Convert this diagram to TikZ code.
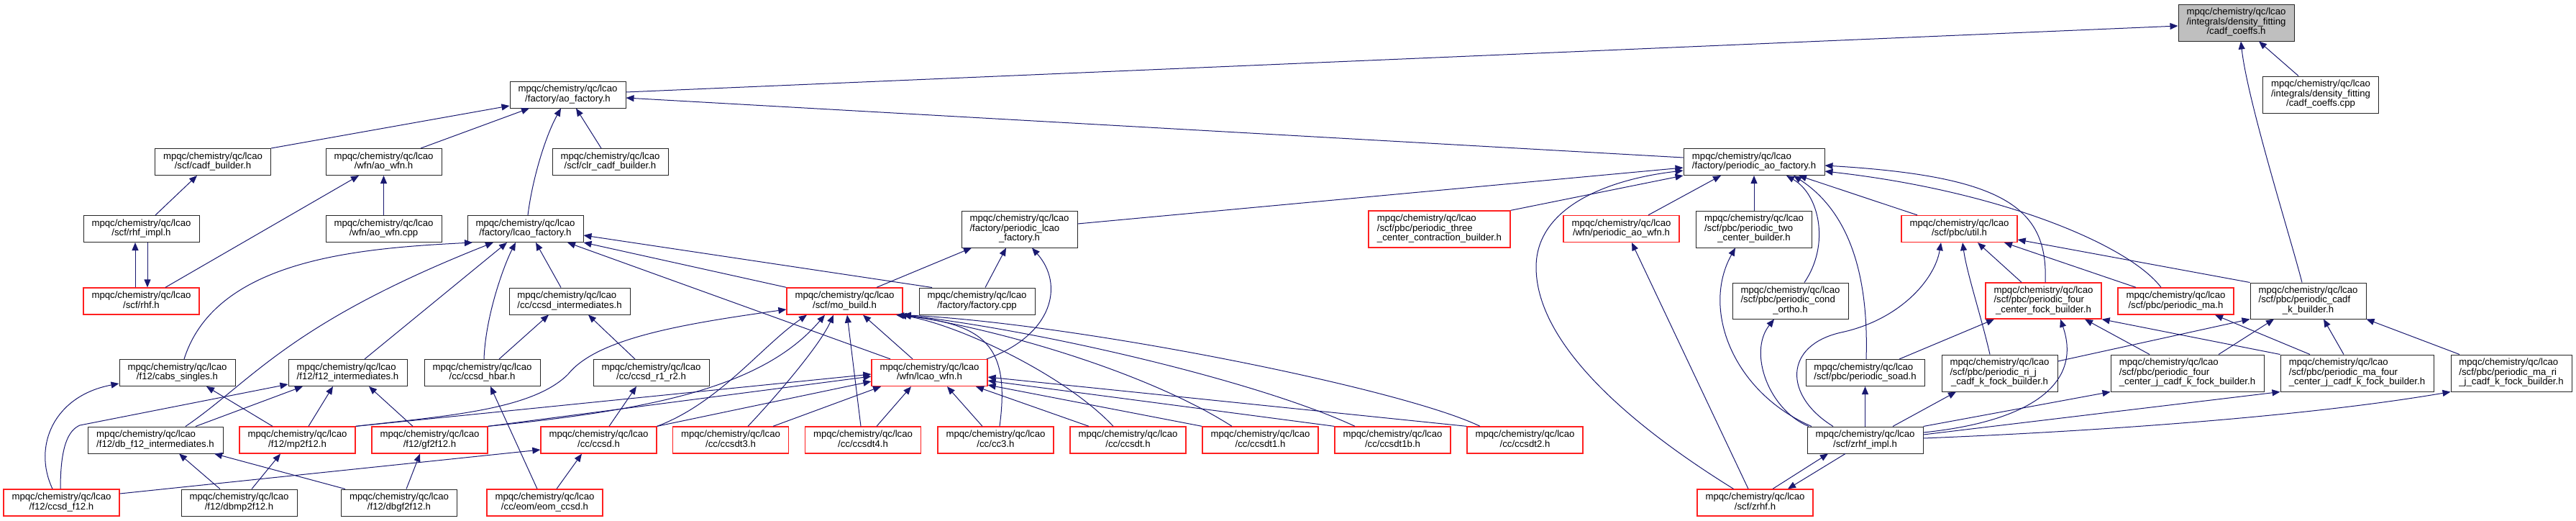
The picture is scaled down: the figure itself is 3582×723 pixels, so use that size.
\documentclass[tikz,border=0pt]{standalone}
\usepackage{fontspec}
\setmainfont{Liberation Sans}
\usetikzlibrary{arrows.meta}
\definecolor{edgec}{HTML}{191970}
\definecolor{rootgray}{HTML}{BFBFBF}
\definecolor{truncred}{HTML}{FF2020}
\newcommand\labii[1]{\begin{tabular}{@{}l@{}}mpqc/chemistry/qc/lcao\\\multicolumn{1}{@{}c@{}}{#1}\end{tabular}}
\newcommand\labiii[2]{\begin{tabular}{@{}l@{}}mpqc/chemistry/qc/lcao\\#1\\\multicolumn{1}{@{}c@{}}{#2}\end{tabular}}
\tikzset{
  box/.style={draw=black!85, line width=1pt, fill=white, inner sep=0pt, minimum width=161pt, minimum height=37pt, font=\fontsize{13.2}{13.3}\selectfont},
  tall/.style={minimum height=51pt},
  trunc/.style={draw=truncred, line width=1.3pt},
  rootn/.style={fill=rootgray},
  e/.style={draw=edgec, line width=1pt, -{Triangle[length=11pt,width=9pt]}},
}
\begin{document}
\begin{tikzpicture}[x=1pt,y=-1pt]
\useasboundingbox (0,0) rectangle (3582,723);
% ---------- nodes ----------
\node[box,tall,rootn] (cch) at (3109.5,31.5) {\labiii{/integrals/density\_fitting}{/cadf\_coeffs.h}};
\node[box,tall] (ccc) at (3227,131.5) {\labiii{/integrals/density\_fitting}{/cadf\_coeffs.cpp}};
\node[box] (aof) at (789.5,131.5) {\labii{/factory/ao\_factory.h}};
\node[box] (cb) at (296,225) {\labii{/scf/cadf\_builder.h}};
\node[box] (aow) at (533.5,225) {\labii{/wfn/ao\_wfn.h}};
\node[box] (clr) at (848.5,225) {\labii{/scf/clr\_cadf\_builder.h}};
\node[box,minimum width=196pt] (paof) at (2439,225) {\labii{/factory/periodic\_ao\_factory.h}};
\node[box] (rhfi) at (196.5,318) {\labii{/scf/rhf\_impl.h}};
\node[box] (aowc) at (533.5,318) {\labii{/wfn/ao\_wfn.cpp}};
\node[box] (lf) at (730.5,318) {\labii{/factory/lcao\_factory.h}};
\node[box,tall] (plf) at (1417.5,318.5) {\labiii{/factory/periodic\_lcao}{\_factory.h}};
\node[box,tall,trunc,minimum width=197pt] (p3c) at (2001.5,318.5) {\labiii{/scf/pbc/periodic\_three}{\_center\_contraction\_builder.h}};
\node[box,trunc] (paw) at (2254.5,318) {\labii{/wfn/periodic\_ao\_wfn.h}};
\node[box,tall] (p2c) at (2439,318.5) {\labiii{/scf/pbc/periodic\_two}{\_center\_builder.h}};
\node[box,trunc] (util) at (2724.5,318) {\labii{/scf/pbc/util.h}};
\node[box,trunc] (rhf) at (196.5,418.5) {\labii{/scf/rhf.h}};
\node[box,minimum width=168pt] (cci) at (792,418.5) {\labii{/cc/ccsd\_intermediates.h}};
\node[box,trunc] (mob) at (1174.5,418.5) {\labii{/scf/mo\_build.h}};
\node[box] (fcpp) at (1358.5,418.5) {\labii{/factory/factory.cpp}};
\node[box,tall,minimum height=50pt] (pco) at (2489.5,418) {\labiii{/scf/pbc/periodic\_cond}{\_ortho.h}};
\node[box,tall,trunc,minimum height=50pt] (p4f) at (2841.5,418) {\labiii{/scf/pbc/periodic\_four}{\_center\_fock\_builder.h}};
\node[box,trunc] (pma) at (3025.5,418.5) {\labii{/scf/pbc/periodic\_ma.h}};
\node[box,tall,minimum height=50pt] (pck) at (3209.5,418) {\labiii{/scf/pbc/periodic\_cadf}{\_k\_builder.h}};
\node[box] (cabs) at (246.5,518) {\labii{/f12/cabs\_singles.h}};
\node[box,minimum width=165pt] (f12i) at (483.5,518) {\labii{/f12/f12\_intermediates.h}};
\node[box] (hbar) at (670.5,518) {\labii{/cc/ccsd\_hbar.h}};
\node[box] (r12) at (905.5,518) {\labii{/cc/ccsd\_r1\_r2.h}};
\node[box,trunc] (lw) at (1292.5,518) {\labii{/wfn/lcao\_wfn.h}};
\node[box,minimum width=165pt] (soad) at (2593.5,518) {\labii{/scf/pbc/periodic\_soad.h}};
\node[box,tall] (prij) at (2780.5,518.5) {\labiii{/scf/pbc/periodic\_ri\_j}{\_cadf\_k\_fock\_builder.h}};
\node[box,tall,minimum width=213pt] (p4j) at (3041.5,518.5) {\labiii{/scf/pbc/periodic\_four}{\_center\_j\_cadf\_k\_fock\_builder.h}};
\node[box,tall,minimum width=213pt] (pm4) at (3277.5,518.5) {\labiii{/scf/pbc/periodic\_ma\_four}{\_center\_j\_cadf\_k\_fock\_builder.h}};
\node[box,tall,minimum width=168pt] (pmri) at (3492,518.5) {\labiii{/scf/pbc/periodic\_ma\_ri}{\_j\_cadf\_k\_fock\_builder.h}};
\node[box,minimum width=188pt] (dbf) at (216,611.5) {\labii{/f12/db\_f12\_intermediates.h}};
\node[box,trunc] (mp2) at (413.5,611.5) {\labii{/f12/mp2f12.h}};
\node[box,trunc] (gf2) at (597.5,611.5) {\labii{/f12/gf2f12.h}};
\node[box,trunc] (ccsd) at (832.5,611.5) {\labii{/cc/ccsd.h}};
\node[box,trunc] (t3) at (1016,611.5) {\labii{/cc/ccsdt3.h}};
\node[box,trunc] (t4) at (1200,611.5) {\labii{/cc/ccsdt4.h}};
\node[box,trunc] (cc3) at (1384.5,611.5) {\labii{/cc/cc3.h}};
\node[box,trunc] (t) at (1568.5,611.5) {\labii{/cc/ccsdt.h}};
\node[box,trunc] (t1) at (1752.5,611.5) {\labii{/cc/ccsdt1.h}};
\node[box,trunc] (t1b) at (1936.5,611.5) {\labii{/cc/ccsdt1b.h}};
\node[box,trunc] (t2) at (2120.5,611.5) {\labii{/cc/ccsdt2.h}};
\node[box] (zri) at (2593.5,611.5) {\labii{/scf/zrhf\_impl.h}};
\node[box,trunc] (cf12) at (85.5,698.5) {\labii{/f12/ccsd\_f12.h}};
\node[box] (dbmp2) at (332.5,698.5) {\labii{/f12/dbmp2f12.h}};
\node[box] (dbgf2) at (555,698.5) {\labii{/f12/dbgf2f12.h}};
\node[box,trunc] (eom) at (757.5,698.5) {\labii{/cc/eom/eom\_ccsd.h}};
\node[box,trunc] (zrhf) at (2440.5,698.5) {\labii{/scf/zrhf.h}};
% ---------- edges ----------
% cadf_coeffs.h
\draw[e] ([yshift=3.5pt]aof.east) -- ([yshift=-4.5pt]cch.west);
\draw[e] ([xshift=-31pt]ccc.north) -- ([xshift=31.5pt]cch.south);
\draw[e] ([xshift=-8.5pt]pck.north) .. controls (3185,330) and (3125,140) .. ([xshift=6.5pt]cch.south);
% ao_factory
\draw[e] (cb.north east) -- ([yshift=-15.5pt]aof.west);
\draw[e] ([xshift=51.5pt]aow.north) -- ([xshift=-53.5pt]aof.south);
\draw[e] ([xshift=3.5pt]lf.north) .. controls (740,250) and (758,190) .. ([xshift=-9.5pt]aof.south);
\draw[e] ([xshift=-12.5pt]clr.north) -- ([xshift=11.5pt]aof.south);
\draw[e] ([yshift=6pt]paof.west) -- ([yshift=-4.5pt]aof.east);
% cadf_builder, ao_wfn, rhf
\draw[e] ([xshift=19.5pt]rhfi.north) -- ([xshift=-22pt]cb.south);
\draw[e] (aowc.north) -- (aow.south);
\draw[e] ([xshift=33.5pt]rhf.north) -- ([xshift=-34.5pt]aow.south);
\draw[e] ([xshift=-8.5pt]rhf.north) -- ([xshift=-8.5pt]rhfi.south);
\draw[e] ([xshift=8.5pt]rhfi.south) -- ([xshift=8.5pt]rhf.north);
% lcao_factory
\draw[e] ([xshift=9.5pt]cabs.north) .. controls (300,360) and (500,345) .. ([xshift=-73.5pt]lf.south);
\draw[e] ([xshift=42pt]dbf.north) .. controls (350,530) and (400,450) .. ([xshift=-44.5pt]lf.south);
\draw[e] ([xshift=23.5pt]f12i.north) -- ([xshift=-25.5pt]lf.south);
\draw[e] ([xshift=2.5pt]hbar.north) .. controls (675,440) and (700,370) .. ([xshift=-13.5pt]lf.south);
\draw[e] ([xshift=-12pt]cci.north) -- ([xshift=14.5pt]lf.south);
\draw[e] ([xshift=-54.5pt]lw.north) -- ([xshift=58.5pt]lf.south);
\draw[e] (mob.north west) -- (lf.south east);
\draw[e] ([xshift=-62.5pt]fcpp.north) -- ([yshift=-9pt]lf.east);
% periodic_lcao_factory
\draw[e] ([xshift=44.5pt]mob.north) -- ([xshift=-66.5pt]plf.south);
\draw[e] ([xshift=11.5pt]fcpp.north) -- ([xshift=-18.5pt]plf.south);
\draw[e] ([xshift=79.5pt]lw.north) .. controls (1465,465) and (1480,395) .. ([xshift=17.5pt]plf.south);
\draw[e] ([yshift=7.5pt]plf.east) -- ([yshift=-8pt]paof.west);
% periodic_ao_factory
\draw[e] ([xshift=-30pt]zrhf.north) .. controls (2250,580) and (2135,470) .. (2136,370) .. controls (2137,290) and (2230,250) .. ([yshift=-12pt]paof.west);
\draw[e] (p3c.north east) -- (paof.south west);
\draw[e] ([xshift=37.5pt]paw.north) -- ([xshift=-46pt]paof.south);
\draw[e] (p2c.north) -- (paof.south);
\draw[e] ([xshift=19.5pt]pco.north) .. controls (2545,340) and (2530,270) .. ([xshift=45pt]paof.south);
\draw[e] ([xshift=1.5pt]soad.north) .. controls (2598,400) and (2580,300) .. ([xshift=55pt]paof.south);
\draw[e] ([xshift=-58.5pt]util.north) -- ([xshift=62pt]paof.south);
\draw[e] ([xshift=2.5pt]p4f.north) .. controls (2848,290) and (2790,245) .. ([yshift=-5pt]paof.east);
\draw[e] ([xshift=-20.5pt]pma.north) .. controls (2960,340) and (2780,265) .. ([yshift=-13pt]paof.east);
% util
\draw[e] ([xshift=-44.5pt]zri.north) .. controls (2480,550) and (2480,480) .. (2560,462) .. controls (2640,445) and (2690,390) .. ([xshift=-25.5pt]util.south);
\draw[e] ([xshift=-13.5pt]prij.north) .. controls (2755,440) and (2735,380) .. ([xshift=4.5pt]util.south);
\draw[e] ([xshift=-30.5pt]p4f.north) -- ([xshift=25.5pt]util.south);
\draw[e] ([xshift=-55.5pt]pma.north) -- ([xshift=62.5pt]util.south);
\draw[e] (pck.north west) -- ([yshift=-15pt]util.east);
% zrhf / zrhf_impl
\draw[e] ([xshift=24.5pt]zrhf.north) -- ([xshift=-51.5pt]zri.south);
\draw[e] ([xshift=-27.5pt]zri.south) -- ([xshift=45.5pt]zrhf.north);
\draw[e] ([xshift=-9.5pt]zrhf.north) -- ([xshift=14.5pt]paw.south);
\draw[e] ([xshift=-74.5pt]zri.north) .. controls (2410,545) and (2365,430) .. ([xshift=-26pt]p2c.south);
\draw[e] ([xshift=-78.5pt]zri.north) .. controls (2460,570) and (2430,490) .. ([xshift=-22.5pt]pco.south);
\draw[e] (zri.north) -- (soad.south);
\draw[e] ([xshift=38.5pt]zri.north) -- ([xshift=-60.5pt]prij.south);
\draw[e] ([yshift=10.5pt]zri.east) .. controls (2830,585) and (2895,530) .. ([xshift=23.5pt]p4f.south);
\draw[e] (zri.north east) -- (p4j.south west);
\draw[e] ([yshift=7.5pt]zri.east) -- (pm4.south west);
\draw[e] ([yshift=2.5pt]zri.east) .. controls (2900,600) and (3200,580) .. (pmri.south west);
% periodic_four_center_fock_builder
\draw[e] ([xshift=47.5pt]soad.north) -- ([xshift=-68.5pt]p4f.south);
\draw[e] ([xshift=-52.5pt]p4j.north) -- ([xshift=57.5pt]p4f.south);
\draw[e] (pm4.north west) -- (p4f.south east);
% periodic_cadf_k_builder
\draw[e] ([yshift=16.5pt]prij.east) -- (pck.south west);
\draw[e] ([xshift=43.5pt]p4j.north) -- ([xshift=-47.5pt]pck.south);
\draw[e] ([xshift=-18.5pt]pm4.north) -- ([xshift=21.5pt]pck.south);
\draw[e] ([xshift=-72pt]pmri.north) -- (pck.south east);
% periodic_ma
\draw[e] ([xshift=-65.5pt]pm4.north) -- ([xshift=54.5pt]pma.south);
% cabs_singles, f12_intermediates
\draw[e] ([xshift=-12.5pt]cf12.north) .. controls (45,620) and (75,550) .. ([yshift=-15pt]cabs.west);
\draw[e] ([xshift=-34.5pt]mp2.north) -- ([xshift=40.5pt]cabs.south);
\draw[e] ([xshift=-1.5pt]cf12.north) .. controls (84,620) and (95,598) .. (111,591) -- ([yshift=-16pt]f12i.west);
\draw[e] ([xshift=56pt]dbf.north) -- ([xshift=-62.5pt]f12i.south);
\draw[e] ([xshift=15.5pt]mp2.north) -- ([xshift=-20.5pt]f12i.south);
\draw[e] ([xshift=-23.5pt]gf2.north) -- ([xshift=29.5pt]f12i.south);
% db_f12, mp2f12, gf2f12
\draw[e] ([xshift=-26.5pt]dbmp2.north) -- ([xshift=33pt]dbf.south);
\draw[e] ([xshift=-75pt]dbgf2.north) -- ([xshift=82pt]dbf.south);
\draw[e] ([xshift=17.5pt]dbmp2.north) -- ([xshift=-23.5pt]mp2.south);
\draw[e] ([xshift=10pt]dbgf2.north) -- ([xshift=-13.5pt]gf2.south);
% ccsd family
\draw[e] ([yshift=12.5pt]cf12.east) -- ([yshift=-13.5pt]ccsd.west);
\draw[e] ([xshift=16.5pt]eom.north) -- ([xshift=-23.5pt]ccsd.south);
\draw[e] ([xshift=-10.5pt]eom.north) -- ([xshift=11.5pt]hbar.south);
\draw[e] ([xshift=14.5pt]ccsd.north) -- ([xshift=-20.5pt]r12.south);
\draw[e] ([xshift=23.5pt]hbar.north) -- ([xshift=-29pt]cci.south);
\draw[e] ([xshift=-22.5pt]r12.north) -- ([xshift=26pt]cci.south);
% mo_build
\draw[e] (mp2.north east) .. controls (620,578) and (740,570) .. (790,520) .. controls (830,470) and (950,450) .. ([yshift=-11.5pt]mob.west);
\draw[e] (gf2.north east) .. controls (900,570) and (1060,540) .. ([xshift=-27.5pt]mob.south);
\draw[e] (ccsd.north east) .. controls (1000,560) and (1060,480) .. ([xshift=-52.5pt]mob.south);
\draw[e] ([xshift=24pt]t3.north) .. controls (1080,550) and (1140,480) .. ([xshift=-15.5pt]mob.south);
\draw[e] ([xshift=-3pt]t4.north) -- ([xshift=3.5pt]mob.south);
\draw[e] ([xshift=-23.5pt]lw.north) -- ([xshift=25.5pt]mob.south);
\draw[e] ([xshift=5.5pt]cc3.north) .. controls (1405,480) and (1370,450) .. ([xshift=71.5pt]mob.south);
\draw[e] ([xshift=-20.5pt]t.north) .. controls (1480,520) and (1330,450) .. ([xshift=75pt]mob.south);
\draw[e] ([xshift=-39.5pt]t1.north) .. controls (1600,520) and (1400,460) .. (mob.south east);
\draw[e] ([xshift=-52.5pt]t1b.north) .. controls (1750,530) and (1450,460) .. (mob.south east);
\draw[e] ([xshift=-62.5pt]t2.north) .. controls (1950,540) and (1500,450) .. (mob.south east);
% lcao_wfn
\draw[e] (mp2.north east) -- ([yshift=-2pt]lw.west);
\draw[e] (gf2.north east) -- ([yshift=-5pt]lw.west);
\draw[e] (ccsd.north east) -- ([yshift=-12pt]lw.west);
\draw[e] ([xshift=59pt]t3.north) -- ([xshift=-67.5pt]lw.south);
\draw[e] ([xshift=19pt]t4.north) -- ([xshift=-25.5pt]lw.south);
\draw[e] ([xshift=-18.5pt]cc3.north) -- ([xshift=24.5pt]lw.south);
\draw[e] ([xshift=-54.5pt]t.north) -- ([xshift=64.5pt]lw.south);
\draw[e] (t1.north west) -- ([yshift=-17pt]lw.east);
\draw[e] (t1b.north west) -- ([yshift=-11pt]lw.east);
\draw[e] (t2.north west) -- ([yshift=-6pt]lw.east);
\end{tikzpicture}
\end{document}
